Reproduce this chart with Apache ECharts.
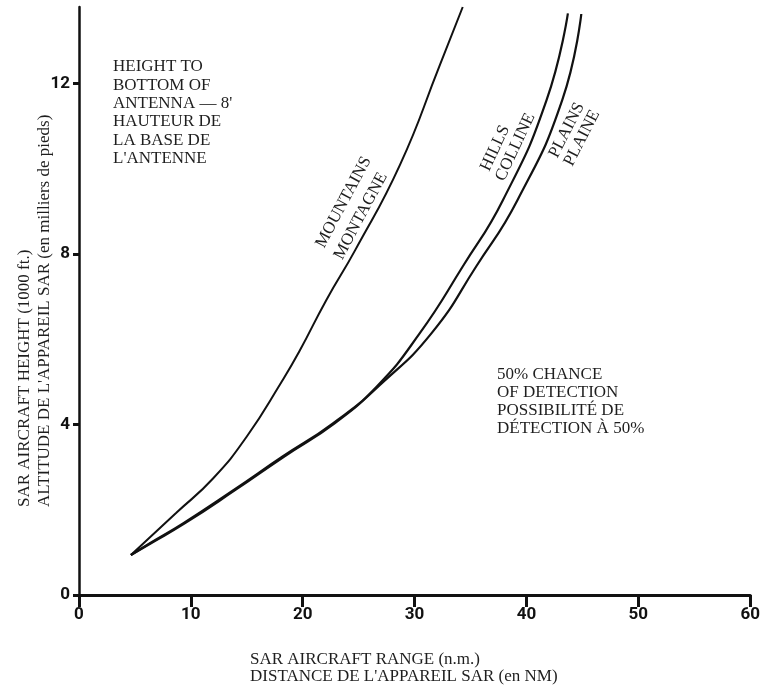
<!DOCTYPE html>
<html>
<head>
<meta charset="utf-8">
<script src="https://cdn.jsdelivr.net/npm/echarts@6/dist/echarts.min.js"></script>
<style>
html,body{margin:0;padding:0;background:#fff;}
#chart{width:763px;height:686px;}
</style>
</head>
<body>
<div id="chart"></div>
<script>
// Data (x = range n.m., y = height 1000 ft)
var mountains = [[4.64,0.94],[8.7,1.93],[12.0,2.74],[15.0,3.72],[18.1,5.0],[19.7,5.72],[22.1,6.92],[24.7,8.1],[28.7,10.1],[32.2,12.4],[34.3,13.8]];
var hills = [[4.64,0.94],[6.3,1.21],[9.3,1.68],[13.8,2.46],[18.2,3.25],[22.7,4.03],[26.6,4.89],[30.45,6.14],[34.3,7.71],[37.9,9.27],[41.8,11.62],[43.7,13.65]];
var plains = [[4.64,0.94],[6.4,1.21],[9.45,1.68],[13.95,2.46],[18.35,3.25],[22.85,4.03],[26.9,4.93],[31.5,6.14],[35.5,7.71],[39.2,9.27],[43.2,11.62],[44.9,13.64]];
var xTicks = [0,10,20,30,40,50,60];
var yTicks = [0,4,8,12];

var serif = '"Liberation Serif", "DejaVu Serif", serif';
var tickFont = 'Roboto, "DejaVu Sans", sans-serif';
var txtColor = '#1e1e1e';

function txt(x, y, text, rotDeg, extra) {
  var st = {text: text, font: '17px ' + serif, fill: txtColor, align: 'left', verticalAlign: 'middle', lineHeight: 18.4};
  if (extra) for (var k in extra) st[k] = extra[k];
  return {type: 'text', x: x, y: y, rotation: (rotDeg || 0) * Math.PI / 180, style: st, z: 10};
}

var chart = echarts.init(document.getElementById('chart'), null, {renderer: 'canvas'});
chart.setOption({
  backgroundColor: '#fff',
  animation: false,
  grid: {left: 79, right: 12, top: 7, bottom: 91, containLabel: false},
  xAxis: {
    type: 'value', min: xTicks[0], max: xTicks[xTicks.length - 1], interval: 10,
    axisLine: {show: true, onZero: false, lineStyle: {color: '#111', width: 3}},
    axisTick: {show: true, inside: false, length: 12, lineStyle: {color: '#111', width: 3}},
    axisLabel: {show: true, margin: 11, color: '#111', fontFamily: tickFont, fontWeight: 'bold', fontSize: 17, verticalAlign: 'top'},
    splitLine: {show: false}
  },
  yAxis: {
    type: 'value', min: 0, max: 13.8, interval: 4,
    axisLine: {show: true, onZero: false, lineStyle: {color: '#111', width: 2.5}},
    axisTick: {show: true, inside: false, length: 6, lineStyle: {color: '#111', width: 3}, customValues: yTicks},
    axisLabel: {show: true, margin: 9, color: '#111', fontFamily: tickFont, fontWeight: 'bold', fontSize: 17, customValues: yTicks},
    splitLine: {show: false}
  },
  series: [
    {name: 'Mountains', type: 'line', data: mountains, smooth: 0.5, showSymbol: false, symbol: 'none', lineStyle: {color: '#111', width: 2}},
    {name: 'Hills', type: 'line', data: hills, smooth: 0.5, showSymbol: false, symbol: 'none', lineStyle: {color: '#111', width: 2.2}},
    {name: 'Plains', type: 'line', data: plains, smooth: 0.5, showSymbol: false, symbol: 'none', lineStyle: {color: '#111', width: 2.2}}
  ],
  graphic: [
    txt(113, 57.5, "HEIGHT TO\nBOTTOM OF\nANTENNA — 8'\nHAUTEUR DE\nLA BASE DE\nL'ANTENNE", 0, {verticalAlign: 'top'}),
    txt(497, 366, "50% CHANCE\nOF DETECTION\nPOSSIBILITÉ DE\nDÉTECTION À 50%", 0, {verticalAlign: 'top', lineHeight: 17.8}),
    txt(320, 246.7, 'MOUNTAINS', 62),
    txt(338.3, 258.3, 'MONTAGNE', 62),
    txt(485, 170, 'HILLS', 65),
    txt(500, 180, 'COLLINE', 65),
    txt(553.3, 156.7, 'PLAINS', 63),
    txt(568.3, 165, 'PLAINE', 63),
    txt(25, 507, 'SAR AIRCRAFT HEIGHT (1000 ft.)', 90),
    txt(45, 507, "ALTITUDE DE L'APPAREIL SAR (en milliers de pieds)", 90),
    txt(250, 660, 'SAR AIRCRAFT RANGE (n.m.)', 0),
    txt(250, 677, "DISTANCE DE L'APPAREIL SAR (en NM)", 0)
  ]
});
</script>
</body>
</html>
